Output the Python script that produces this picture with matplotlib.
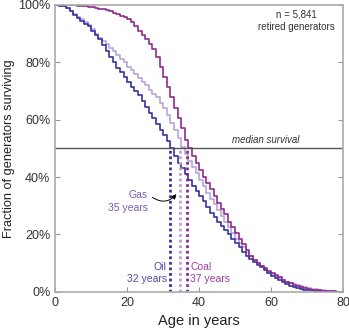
import numpy as np
import matplotlib.pyplot as plt
from matplotlib.ticker import FuncFormatter

plt.rcParams['font.family'] = ['Liberation Sans', 'DejaVu Sans']

ages = np.arange(0, 81)

coal = [100, 100, 100, 100, 100, 100, 99.8, 99.7, 99.5, 99.3, 99.2, 99.0, 98.7, 98.5, 98.2, 97.8,
        97.3, 96.8, 96.3, 95.7, 95.0, 94.0, 92.5, 91.0, 89.5, 88.0, 86.5, 84.5, 82.0, 78.5,
        75.0, 71.5, 68.0, 64.0, 60.5, 57.0, 53.0, 50.0, 47.5, 45.0, 42.5, 40.0, 38.0, 36.0,
        33.5, 31.0, 29.0, 27.0, 24.5, 22.5, 20.5, 18.5, 16.5, 14.5, 12.5, 11.0, 10.0, 9.0,
        8.2, 7.3, 6.5, 5.7, 5.0, 4.2, 3.5, 3.0, 2.5, 2.0, 1.6, 1.2, 1.0, 0.8, 0.6, 0.5, 0.4,
        0.3, 0.2, 0.2, 0.1, 0.1, 0.0]

gas = [100, 99.8, 99.5, 99.0, 98.0, 96.8, 95.8, 95.0, 94.0, 93.0, 91.5, 90.0, 88.5, 87.5,
       86.3, 85.0, 84.0, 82.5, 81.0, 80.0, 78.5, 77.5, 76.0, 74.5, 73.0, 72.0, 70.5, 69.0,
       68.0, 66.0, 64.0, 61.5, 59.0, 56.5, 53.5, 50.5, 48.0, 45.5, 43.5, 41.5, 39.0, 37.0,
       34.5, 32.5, 30.5, 28.5, 26.5, 24.5, 22.5, 20.5, 18.5, 17.0, 15.5, 14.0, 12.5, 11.2,
       10.0, 9.0, 8.0, 7.0, 6.2, 5.5, 4.8, 4.2, 3.6, 3.1, 2.7, 2.3, 2.0, 1.7, 1.4, 1.1, 0.9,
       0.7, 0.5, 0.4, 0.3, 0.2, 0.1, 0.1, 0.0]

oil = [100, 99.8, 99.5, 99.0, 98.0, 96.5, 95.5, 94.5, 93.5, 92.5, 91.0, 89.5, 88.0, 86.0,
       84.0, 82.0, 80.0, 78.0, 76.5, 75.0, 73.0, 71.5, 70.0, 68.5, 66.5, 64.5, 62.5, 60.5,
       58.5, 56.5, 54.5, 52.5, 50.0, 47.5, 45.0, 43.0, 41.0, 39.0, 37.0, 35.0, 33.5, 31.5,
       29.5, 27.5, 26.0, 24.5, 23.0, 21.5, 20.0, 18.5, 17.0, 15.5, 14.0, 12.5, 11.5, 10.5,
       9.5, 8.5, 7.5, 6.5, 5.5, 4.7, 4.0, 3.3, 2.7, 2.2, 1.8, 1.4, 1.1, 0.8, 0.6, 0.5, 0.4,
       0.3, 0.2, 0.2, 0.1, 0.1, 0.1, 0.1, 0.0]

medians = {'oil': 32.0, 'gas': 34.6, 'coal': 36.6}

c_coal = '#8c2b8e'
c_gas = '#b9a3dc'
c_oil = '#33339e'

fig = plt.figure(figsize=(3.49, 3.32), dpi=100)
ax = fig.add_axes([0.158, 0.121, 0.825, 0.864])

ax.step(ages, gas, where='post', color=c_gas, lw=1.2)
ax.step(ages, oil, where='post', color=c_oil, lw=1.2)
ax.step(ages, coal, where='post', color=c_coal, lw=1.2)

ax.axhline(50, color='#555555', lw=1.0)
ax.text(58.6, 51.2, 'median survival', style='italic', fontsize=7, color='#333333',
        ha='center', va='bottom')

ax.vlines(medians['oil'], 0, 50, colors=c_oil, linestyles=(0, (1, 1)), lw=2.0)
ax.vlines(medians['gas'], 0, 50, colors=c_gas, linestyles=(0, (1, 1)), lw=2.0)
ax.vlines(medians['coal'], 0, 50, colors=c_coal, linestyles=(0, (1, 1)), lw=2.0)

ax.text(31.0, 8.6, 'Oil', color='#4a4aa8', fontsize=7.5, ha='right', va='center')
ax.text(31.0, 4.3, '32 years', color='#4a4aa8', fontsize=7.5, ha='right', va='center')
ax.text(37.6, 8.6, 'Coal', color='#a03ca0', fontsize=7.5, ha='left', va='center')
ax.text(37.6, 4.3, '37 years', color='#a03ca0', fontsize=7.5, ha='left', va='center')
ax.text(25.8, 33.6, 'Gas', color='#7b5cb0', fontsize=7.5, ha='right', va='center')
ax.text(25.8, 29.3, '35 years', color='#7b5cb0', fontsize=7.5, ha='right', va='center')
ax.annotate('', xy=(34.2, 34.8), xytext=(26.4, 33.5),
            arrowprops=dict(arrowstyle='-|>', color='black', lw=0.7,
                            mutation_scale=7,
                            connectionstyle='arc3,rad=0.5'))

ax.text(66.9, 96.6, 'n = 5,841', fontsize=7, color='#333333', ha='center', va='center')
ax.text(66.9, 92.4, 'retired generators', fontsize=7, color='#333333', ha='center', va='center')

ax.set_xlim(0, 80)
ax.set_ylim(0, 100)
ax.set_xticks([0, 20, 40, 60, 80])
ax.set_yticks([0, 20, 40, 60, 80, 100])
ax.yaxis.set_major_formatter(FuncFormatter(lambda v, p: f'{v:.0f}%'))
ax.tick_params(direction='in', length=3.5, color='#999999', labelcolor='#333333',
               labelsize=9, right=True, width=0.8)
for s in ax.spines.values():
    s.set_color('#aaaaaa')
    s.set_linewidth(1.2)

ax.set_xlabel('Age in years', fontsize=10.5, color='#222222', labelpad=4)
ax.set_ylabel('Fraction of generators surviving', fontsize=9.2, color='#222222')
ax.yaxis.set_label_coords(-0.14, 0.5)

fig.savefig('out.png', dpi=100)
